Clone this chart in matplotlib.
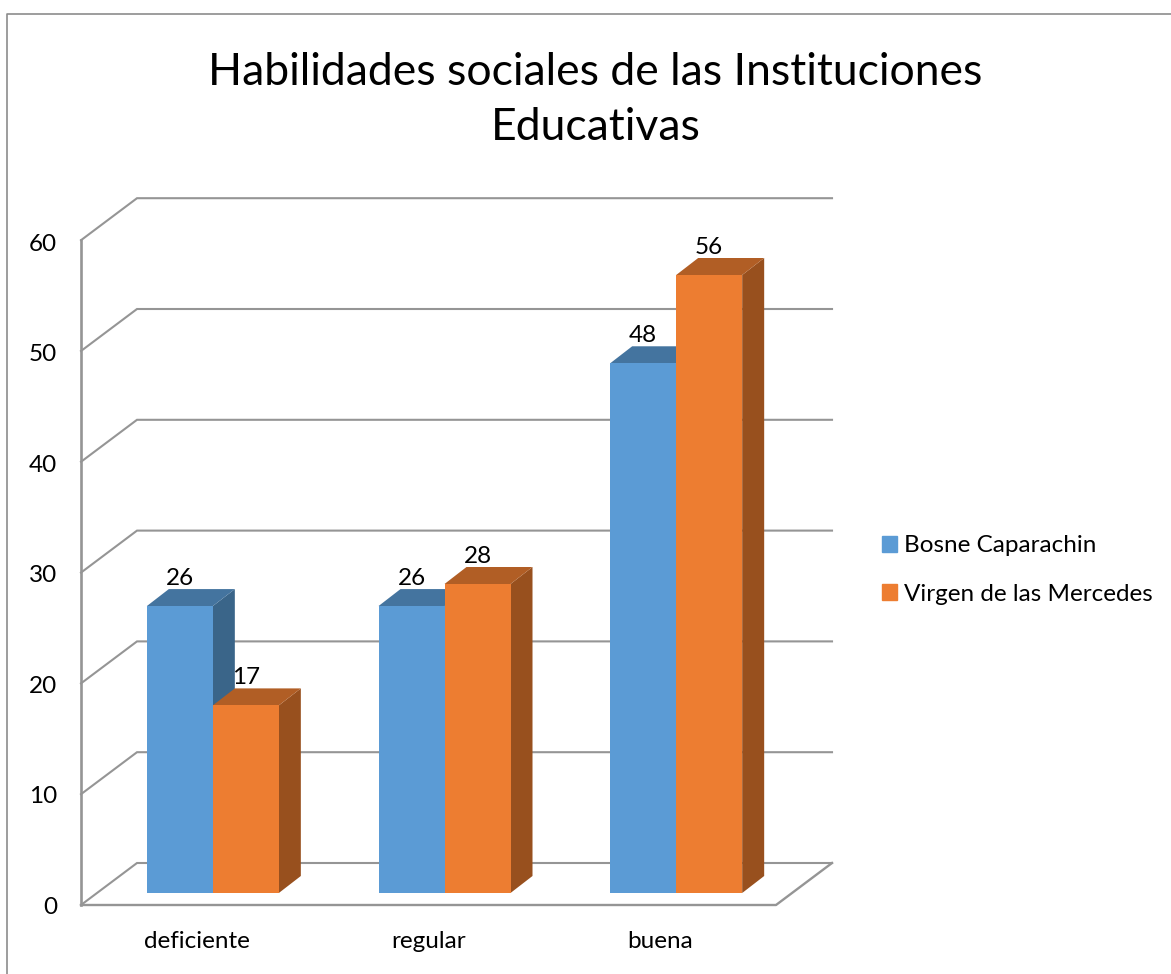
import matplotlib.pyplot as plt
from matplotlib.patches import Patch

plt.rcParams['font.family'] = ['Lato', 'DejaVu Sans']

# Data
categories = ['deficiente', 'regular', 'buena']
bosne = [26, 26, 48]
virgen = [17, 28, 56]
y_ticks = [0, 10, 20, 30, 40, 50, 60]
series_names = ['Bosne Caparachin', 'Virgen de las Mercedes']

# Colours (front, top, side)
blue = ['#5B9BD5', '#44749F', '#3A6589']
orange = ['#ED7D31', '#B15E25', '#98501E']
grid_col = '#959595'

W, H = 1171, 974
fig = plt.figure(figsize=(W / 100, H / 100), dpi=100)
ax = fig.add_axes([0, 0, 1, 1])

# one category = 231.67 px, one unit of value = 11.08 px
cat_px = 231.67
val_px = 11.08
ax.set_xlim(-0.5 - 81 / cat_px, -0.5 + (W - 81) / cat_px)
ax.set_ylim(-(H - 905) / val_px, 905 / val_px)
ax.axis('off')

# depth of the walls and of the bars, in data units
wall_dx, wall_dy = 56 / cat_px, 42 / val_px
inset_dx, inset_dy = 16 / cat_px, 12 / val_px
bar_dx, bar_dy = 22 / cat_px, 17 / val_px
bar_w = 66 / cat_px
bar_scale = 0.996  # bars come out a little shorter than the walls in the 3d view

x0, x1 = -0.5, len(categories) - 0.5

# walls and gridlines
for t in y_ticks:
    ax.plot([x0, x0 + wall_dx, x1 + wall_dx], [t, t + wall_dy, t + wall_dy],
            color=grid_col, lw=1.5, solid_joinstyle='miter', zorder=1)
    ax.text(x0 - 24 / cat_px, t - (2 + t / 30) / val_px, str(t), ha='right', va='center',
            fontsize=17.5, color='black')
ax.plot([x0, x0], [y_ticks[0], y_ticks[-1]], color=grid_col, lw=1.9, zorder=1)
ax.plot([x0, x1, x1 + wall_dx], [0, 0, wall_dy], color=grid_col, lw=1.7, zorder=1)


def bar3d(left, val, cols, z):
    l = left + inset_dx
    r = l + bar_w
    b = inset_dy
    t = b + val * bar_scale
    ax.fill([r, r + bar_dx, r + bar_dx, r], [b, b + bar_dy, t + bar_dy, t], color=cols[2], lw=0, zorder=z)
    ax.fill([l, r, r + bar_dx, l + bar_dx], [t, t, t + bar_dy, t + bar_dy], color=cols[1], lw=0, zorder=z)
    ax.fill([l, r, r, l], [b, b, t, t], color=cols[0], lw=0, zorder=z)
    ax.text((l + r) / 2, t + bar_dy + 11 / val_px, str(val), ha='center', va='center',
            fontsize=17.5, color='black', zorder=10)


for i, cat in enumerate(categories):
    bar3d(i - bar_w, bosne[i], blue, 3)
    bar3d(i, virgen[i], orange, 4)
    ax.text(i, -36 / val_px, cat, ha='center', va='center', fontsize=17.5, color='black')

# title
ax.text(595.5 / W, 1 - 100 / H, 'Habilidades sociales de las Instituciones\nEducativas',
        transform=ax.transAxes, ha='center', va='center', fontsize=32, linespacing=1.45, color='black')

# legend
handles = [Patch(color=blue[0]), Patch(color=orange[0])]
ax.legend(handles, series_names, loc='center left', bbox_to_anchor=(882 / W, 1 - 570 / H),
          frameon=False, fontsize=17.5, handlelength=0.62, handleheight=0.62,
          handletextpad=0.29, labelspacing=1.12, borderpad=0, borderaxespad=0)

# outer frame, only left and top show
ax.plot([0.006, 0.006, 1], [0, 1 - 13.5 / H, 1 - 13.5 / H], transform=ax.transAxes,
        color='#8C8C8C', lw=1.2, clip_on=False)

fig.savefig('out.png', dpi=100)
